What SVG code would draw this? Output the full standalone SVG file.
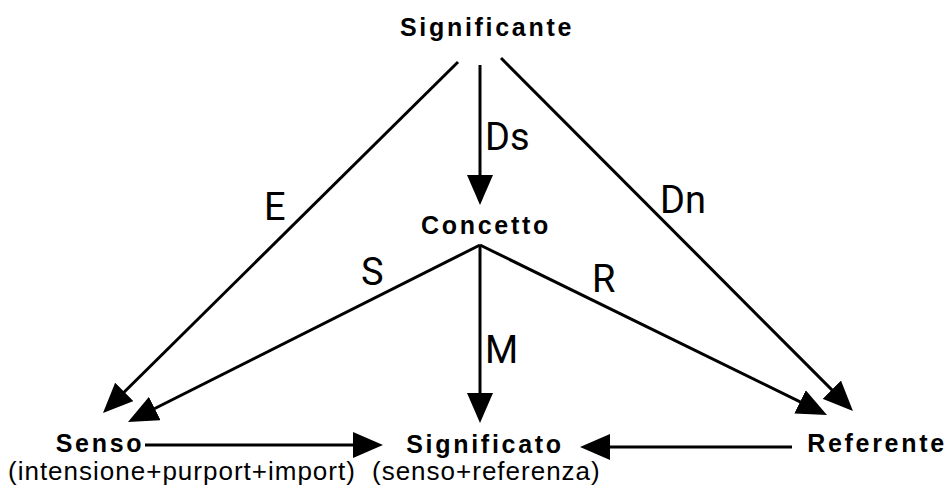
<svg xmlns="http://www.w3.org/2000/svg" width="949" height="489" viewBox="0 0 949 489">
<style>
.node{font-family:"Liberation Sans",Arial,sans-serif;font-weight:bold;font-size:25px;letter-spacing:2.7px;fill:#000;text-anchor:middle}
.sub{font-family:"Liberation Sans",Arial,sans-serif;font-size:26px;letter-spacing:1px;fill:#000}
.lbl{font-family:Roboto,"Liberation Sans",sans-serif;font-size:38px;fill:#000}
.edge{stroke:#000;stroke-width:3;fill:none;marker-end:url(#ah)}
</style>
<defs>
<marker id="ah" viewBox="0 0 30 26" refX="20" refY="13" markerWidth="30" markerHeight="26" markerUnits="userSpaceOnUse" orient="auto">
<path d="M0,0 L30,13 L0,26 Z" fill="#000"/>
</marker>
</defs>
<rect width="949" height="489" fill="#fff"/>
<g id="connectors">
<line class="edge" x1="458" y1="62" x2="110.1" y2="406"/>
<line class="edge" x1="480" y1="65" x2="480" y2="195"/>
<line class="edge" x1="501" y1="58" x2="845.9" y2="403.9"/>
<line class="edge" x1="480" y1="245" x2="136.9" y2="417.5"/>
<line class="edge" x1="480" y1="245" x2="480" y2="413"/>
<line class="edge" x1="480" y1="245" x2="818" y2="410.6"/>
<line class="edge" x1="145" y1="445" x2="373" y2="445"/>
<line class="edge" x1="792" y1="447" x2="590" y2="447"/>
<text class="lbl" x="264" y="220">E</text>
<text class="lbl" x="485" y="150">Ds</text>
<text class="lbl" x="660" y="213">Dn</text>
<text class="lbl" x="361" y="285">S</text>
<text class="lbl" x="592" y="292">R</text>
<text class="lbl" x="485" y="363">M</text>
</g>
<g id="significante"><text class="node" x="487" y="36">Significante</text></g>
<g id="concetto"><text class="node" x="486" y="234">Concetto</text></g>
<g id="senso"><text class="node" x="100" y="452">Senso</text>
<text class="sub" x="8" y="480">(intensione+purport+import)</text></g>
<g id="significato"><text class="node" x="485" y="453">Significato</text>
<text class="sub" x="372" y="480">(senso+referenza)</text></g>
<g id="referente"><text class="node" x="877" y="452">Referente</text></g>
</svg>
